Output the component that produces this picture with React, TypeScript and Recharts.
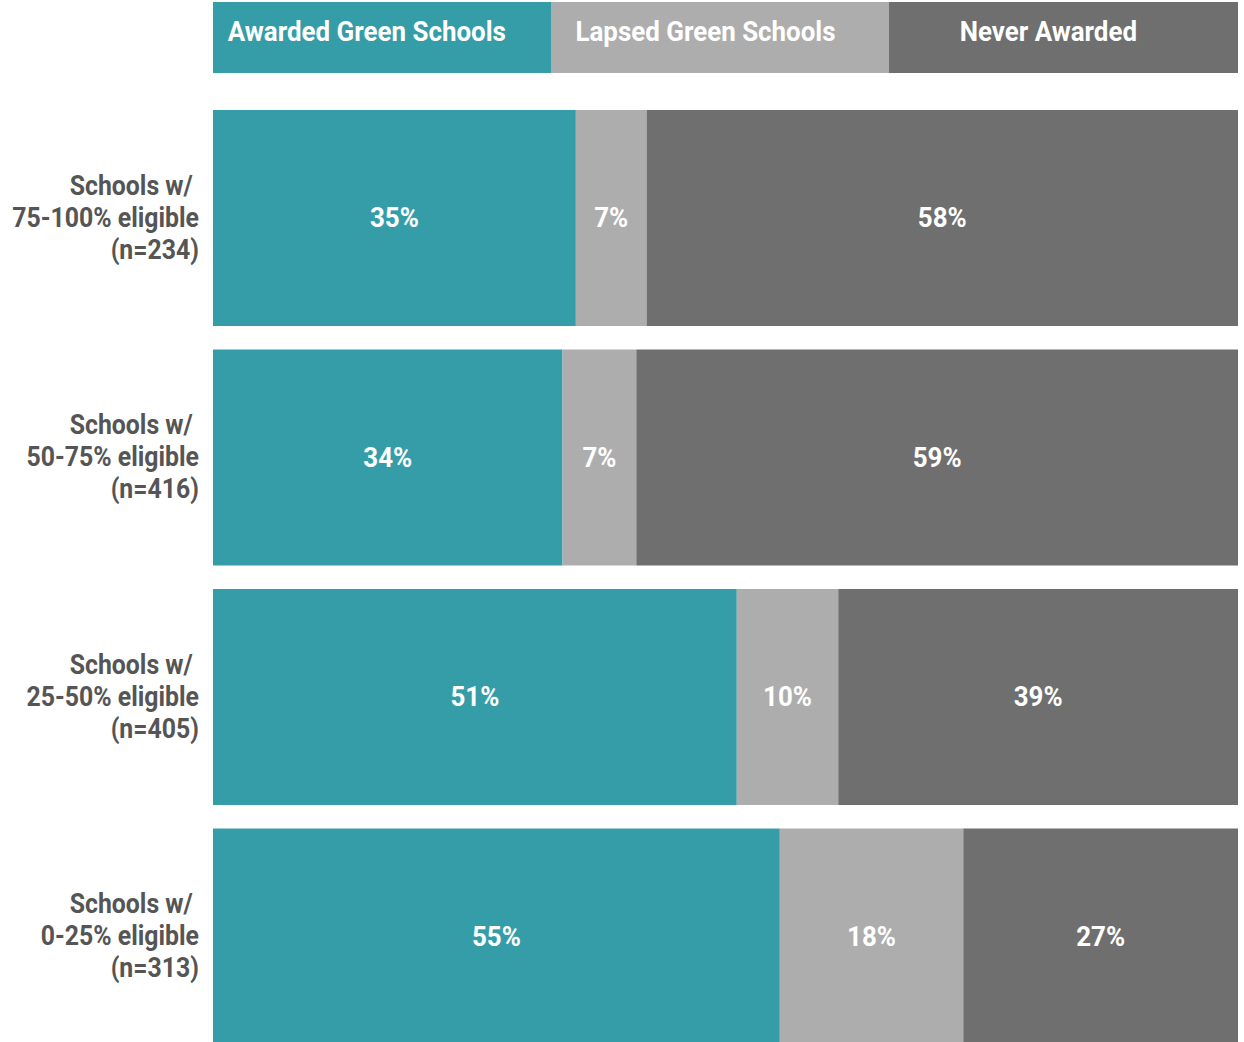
import React from 'react';
import { BarChart, Bar, XAxis, YAxis, Legend, LabelList } from 'recharts';

const groups = ['75-100%', '50-75%', '25-50%', '0-25%'];
const counts = [234, 416, 405, 313];
const awarded = [35.4, 34.1, 51.1, 55.3];
const lapsed = [6.9, 7.2, 9.9, 17.9];
const never = [57.7, 58.7, 39.0, 26.8];

const seriesNames = ['Awarded Green Schools', 'Lapsed Green Schools', 'Never Awarded'];
const seriesKeys = ['awarded', 'lapsed', 'never'];
const colors = ['#359DA8', '#ADADAD', '#6F6F6F'];

const FONT = "Roboto, 'Liberation Sans', sans-serif";
// reference uses a condensed face; squeeze Roboto horizontally to match
const TICK_SQUEEZE = 0.92;
const LABEL_SQUEEZE = 0.96;

const data = groups.map((g, i) => ({
  name: g,
  n: counts[i],
  awarded: awarded[i],
  lapsed: lapsed[i],
  never: never[i],
}));

const GroupTick = (props: any) => {
  const { x, y, payload, index } = props;
  const lines = ['Schools w/ ', `${payload.value} eligible`, `(n=${counts[index]})`];
  return (
    <g transform={`translate(${x - 6},${y}) scale(${TICK_SQUEEZE},1)`}>
      <text
        x={0}
        y={0}
        textAnchor='end'
        fill='#555555'
        fontFamily={FONT}
        fontWeight={700}
        fontSize={27}
        style={{ whiteSpace: 'pre' }}
      >
        {lines.map((l, i) => (
          <tspan key={i} x={0} dy={i === 0 ? -23 : 32}>
            {l}
          </tspan>
        ))}
      </text>
    </g>
  );
};

const SegmentLabel = (props: any) => {
  const { x, y, width, height, value } = props;
  const cx = Number(x) + Number(width) / 2;
  const cy = Number(y) + Number(height) / 2;
  return (
    <g transform={`translate(${cx},${cy}) scale(${LABEL_SQUEEZE},1)`}>
      <text
        x={0}
        y={0}
        dy={9}
        textAnchor='middle'
        fill='#ffffff'
        fontFamily={FONT}
        fontWeight={700}
        fontSize={27}
      >
        {`${Math.round(Number(value))}%`}
      </text>
    </g>
  );
};

const BlockLegend = () => (
  <div style={{ display: 'flex', width: 1025, height: 71 }}>
    {seriesNames.map((s, i) => (
      <div
        key={s}
        style={{
          flex: i === 2 ? '0 0 349px' : '0 0 338px',
          background: colors[i],
          color: '#ffffff',
          fontFamily: FONT,
          fontWeight: 700,
          fontSize: 27,
          display: 'flex',
          alignItems: 'center',
          justifyContent: 'center',
          paddingRight: 30,
          paddingBottom: 12,
          boxSizing: 'border-box',
          whiteSpace: 'nowrap',
        }}
      >
        <span style={{ display: 'inline-block', transform: `scaleX(${LABEL_SQUEEZE})` }}>{s}</span>
      </div>
    ))}
  </div>
);

export default function App() {
  return (
    <div style={{ position: 'absolute', top: 0, left: 0 }}>
      <BarChart
        width={1244}
        height={1060}
        data={data}
        layout='vertical'
        barCategoryGap={12}
        margin={{ top: 98, right: 6, bottom: 4, left: 0 }}
      >
        <XAxis type='number' domain={[0, 100]} hide />
        <YAxis
          type='category'
          dataKey='name'
          width={213}
          axisLine={false}
          tickLine={false}
          tick={<GroupTick />}
        />
        <Legend
          layout='horizontal'
          verticalAlign='middle'
          align='center'
          wrapperStyle={{ top: 2, left: 213, width: 1025, height: 71 }}
          content={<BlockLegend />}
        />
        {seriesKeys.map((k, i) => (
          <Bar
            key={k}
            dataKey={k}
            name={seriesNames[i]}
            stackId='a'
            fill={colors[i]}
            isAnimationActive={false}
          >
            <LabelList dataKey={k} content={<SegmentLabel />} />
          </Bar>
        ))}
      </BarChart>
    </div>
  );
}
